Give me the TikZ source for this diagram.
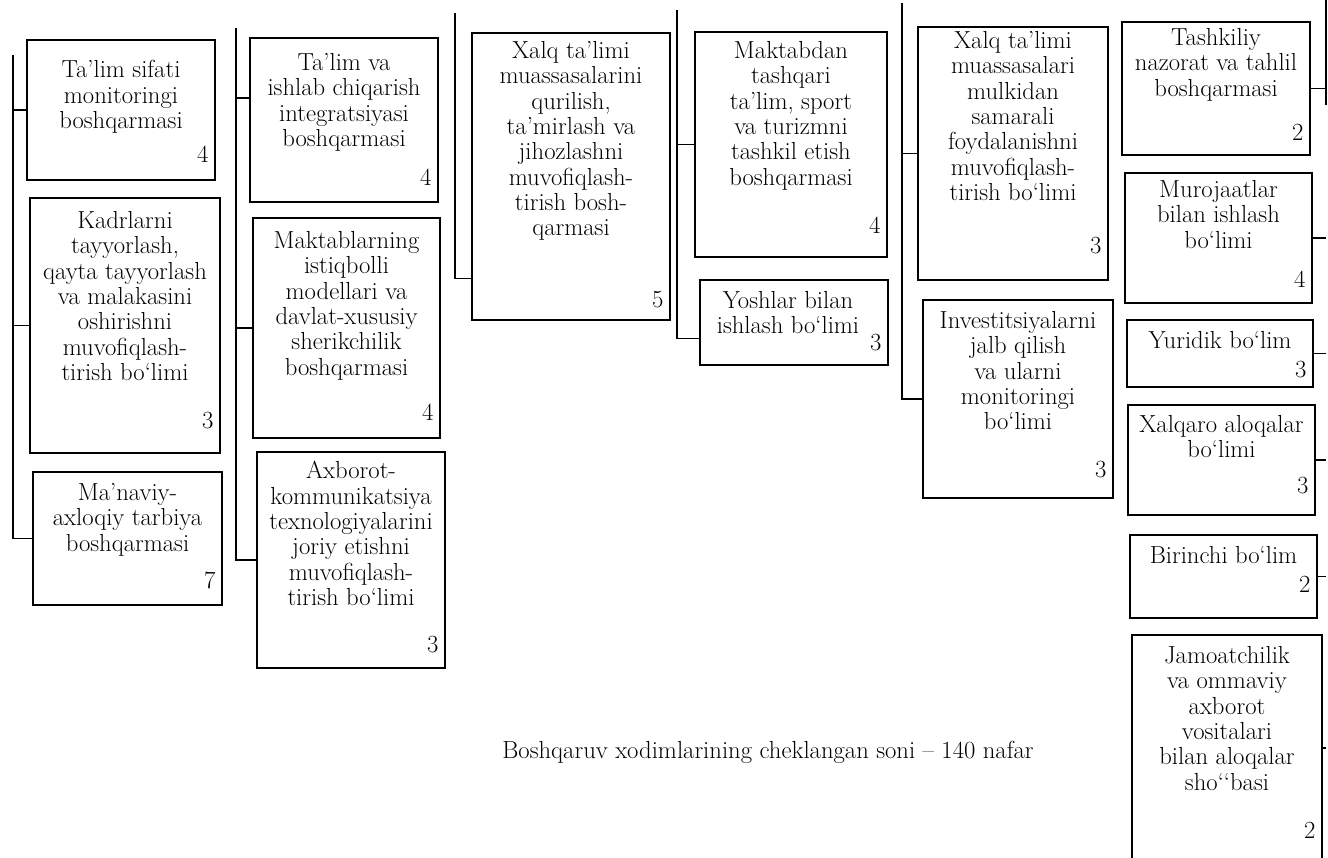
\documentclass[tikz,border=0pt]{standalone}
\usetikzlibrary{calc}
\tikzset{
  bx/.style={draw, line width=1.1pt, inner sep=0pt, rectangle},
  txt/.style={inner sep=0pt, align=center, font=\fontsize{18.5}{19}\selectfont},
  num/.style={inner sep=0pt, font=\fontsize{18.5}{19}\selectfont},
  con/.style={line width=1pt},
  busline/.style={line width=1pt}
}
\newcommand{\orgbox}[9]{%
  \node[bx, minimum width={(#4-#2)*0.75pt}, minimum height={(#5-#3)*0.75pt}] (#1) at ({(#2+#4)/2},{(#3+#5)/2}) {};
  \node[txt, anchor=north] (#1t) at ($(#1.north)+(#7)$) {#6};
  \node[num, anchor=base east] (#1n) at ($(#1.south east)+(-7,-#9)$) {#8};
}
\begin{document}
\begin{tikzpicture}[x=0.75pt,y=-0.75pt]
\path[use as bounding box] (0,0) rectangle (1328,857);
\clip (0,0) rectangle (1328,857);

% column 1
\orgbox{a1}{27}{40}{215}{180}{Ta’lim sifati\\monitoringi\\boshqarmasi}{0,21}{4}{18}
\orgbox{a2}{30}{198}{220}{453}{Kadrlarni\\tayyorlash,\\qayta tayyorlash\\va malakasini\\oshirishni\\muvofiqlash-\\tirish bo‘limi}{0,14}{3}{25}
\orgbox{a3}{33}{472}{222}{605}{Ma’naviy-\\axloqiy tarbiya\\boshqarmasi}{0,12}{7}{17}
% column 2
\orgbox{b1}{250}{38}{438}{202}{Ta’lim va\\ishlab chiqarish\\integratsiyasi\\boshqarmasi}{0,16}{4}{17}
\orgbox{b2}{253}{218}{440}{438}{Maktablarning\\istiqbolli\\modellari va\\davlat-xususiy\\sherikchilik\\boshqarmasi}{0,14}{4}{18}
\orgbox{b3}{257}{452}{445}{668}{Axborot-\\kommunikatsiya\\texnologiyalarini\\joriy etishni\\muvofiqlash-\\tirish bo‘limi}{0,10}{3}{16}
% column 3
\orgbox{c1}{472}{33}{670}{320}{Xalq ta’limi\\muassasalarini\\qurilish,\\ta’mirlash va\\jihozlashni\\muvofiqlash-\\tirish bosh-\\qarmasi}{0,9}{5}{13}
% column 4
\orgbox{d1}{695}{32}{887}{257}{Maktabdan\\tashqari\\ta’lim, sport\\va turizmni\\tashkil etish\\boshqarmasi}{0,10}{4}{24}
\orgbox{d2}{700}{280}{888}{365}{Yoshlar bilan\\ishlash bo‘limi}{-6,12}{3}{15}
% column 5
\orgbox{e1}{918}{27}{1108}{280}{Xalq ta’limi\\muassasalari\\mulkidan\\samarali\\foydalanishni\\muvofiqlash-\\tirish bo‘limi}{0,5}{3}{27}
\orgbox{e2}{923}{300}{1113}{498}{Investitsiyalarni\\jalb qilish\\va ularni\\monitoringi\\bo‘limi}{0,12}{3}{21}
% column 6
\orgbox{f1}{1122}{22}{1310}{155}{Tashkiliy\\nazorat va tahlil\\boshqarmasi}{0,7}{2}{15}
\orgbox{f2}{1125}{173}{1312}{303}{Murojaatlar\\bilan ishlash\\bo‘limi}{0,8}{4}{16}
\orgbox{f3}{1127}{320}{1313}{387}{Yuridik bo‘lim}{0,12}{3}{10}
\orgbox{f4}{1128}{405}{1315}{515}{Xalqaro aloqalar\\bo‘limi}{0,11}{3}{22}
\orgbox{f5}{1130}{535}{1317}{618}{Birinchi bo‘lim}{0,12}{2}{26}
\orgbox{f6}{1132}{635}{1322}{861}{Jamoatchilik\\va ommaviy\\axborot\\vositalari\\bilan aloqalar\\sho‘‘basi}{0,12}{2}{23}

% bus coordinates
\coordinate (bus1) at (13,55);
\coordinate (bus2) at (236,28);
\coordinate (bus3) at (455,13);
\coordinate (bus4) at (677,10);
\coordinate (bus5) at (902,3);
\coordinate (bus6) at (1326,0);
\coordinate (bus6b) at (1326,105);

% connection points off box centre
\coordinate (b1c) at ($(b1.west)+(0,-22)$);
\coordinate (c1c) at ($(c1.west)+(0,102)$);
\coordinate (d2c) at ($(d2.west)+(0,16)$);

% column 1
\draw[busline] (bus1) |- (a3.west);
\draw[con] (a1.west) -- (a1.west -| bus1);
\draw[con] (a2.west) -- (a2.west -| bus1);
% column 2
\draw[busline] (bus2) |- (b3.west);
\draw[con] (b1c) -- (b1c -| bus2);
\draw[con] (b2.west) -- (b2.west -| bus2);
% column 3
\draw[busline] (bus3) |- (c1c);
% column 4
\draw[busline] (bus4) |- (d2c);
\draw[con] (d1.west) -- (d1.west -| bus4);
% column 5
\draw[busline] (bus5) |- (e2.west);
\draw[con] (e1.west) -- (e1.west -| bus5);
% column 6
\draw[line width=2pt] (bus6) -- (bus6b);
\foreach \n in {f1,f2,f3,f4,f5,f6} {
  \draw[con] (\n.east) -- (\n.east -| bus6);
}

\node[txt, anchor=base] (cap) at (768,758) {Boshqaruv xodimlarining cheklangan soni – 140 nafar};
\end{tikzpicture}
\end{document}
